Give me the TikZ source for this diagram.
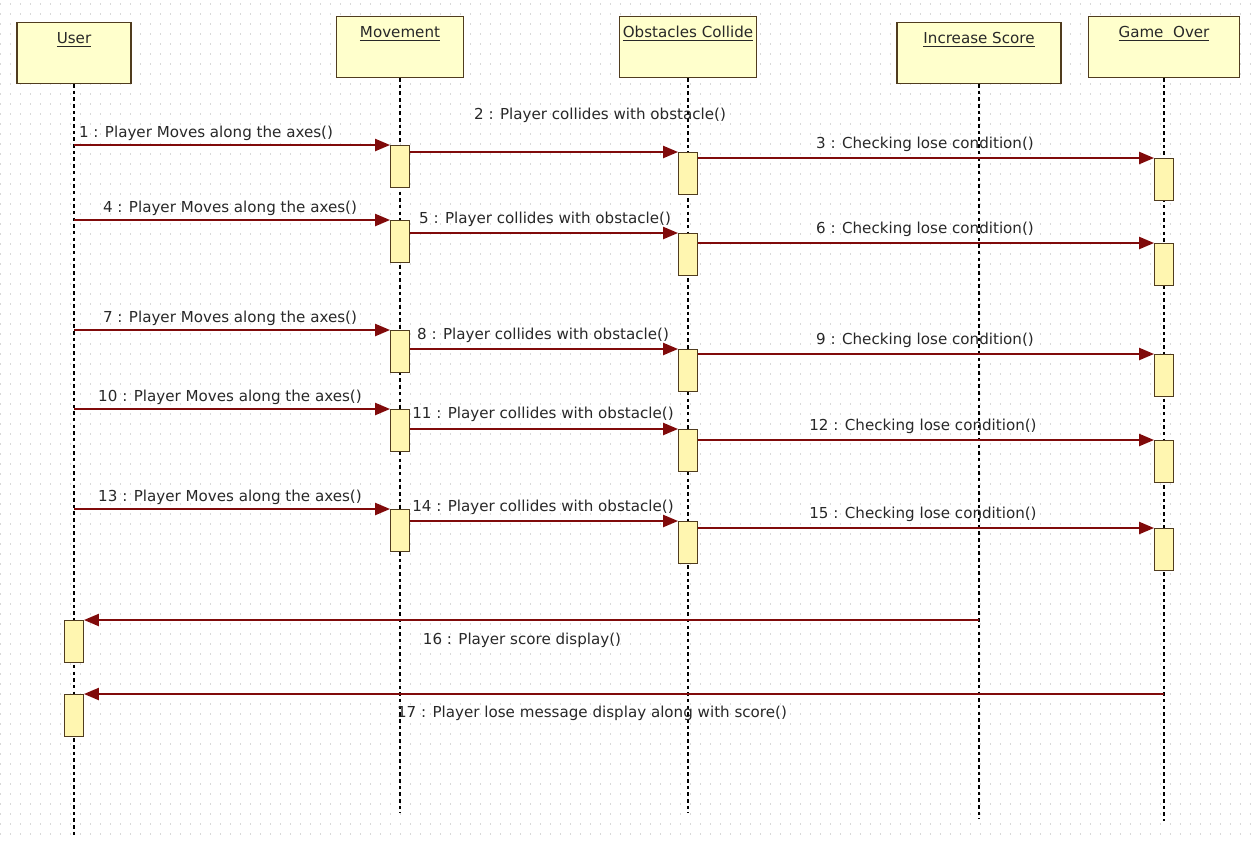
\documentclass[tikz,border=0pt]{standalone}
\usepackage{fontspec}
\setmainfont{DejaVu Sans}
\usetikzlibrary{
  calc, % For coordinate calculations
  arrows.meta, % For arrow tips
  positioning
}

\definecolor{headfill}{RGB}{255,255,204}
\definecolor{actfill}{RGB}{255,246,176}
\definecolor{boxline}{RGB}{80,60,30}
\definecolor{msgline}{RGB}{128,10,10}
\definecolor{txt}{RGB}{40,40,40}

\begin{document}
\begin{tikzpicture}[
    x=0.02cm, y=-0.02cm, % one unit = one pixel of the screenshot
    font=\fontsize{8.6pt}{10pt}\selectfont,
    head/.style={draw=boxline, fill=headfill, line width=0.6pt, minimum height=1.22cm, anchor=north},
    headlbl/.style={anchor=north, yshift=-0.2cm, text=txt, inner sep=0pt},
    act/.style={draw=boxline, fill=actfill, line width=0.6pt, minimum width=0.38cm, minimum height=0.84cm, inner sep=0pt, anchor=north},
    life/.style={black, line width=0.8pt, dash pattern=on 2pt off 1.8pt},
    msg/.style={msgline, line width=0.8pt, -{Triangle[length=8.5pt, width=7pt]}},
    lbl/.style={text=txt, inner sep=0pt},
    griddot/.style={black!15, line width=0.6pt, dash pattern=on 0.57pt off 5.12pt},
  ]

  % Hintergrund
  \fill[white] (0,0) rectangle (1259,843);
  \useasboundingbox (0,0) rectangle (1259,843);
  \foreach \gy in {4,14,...,834}
  \draw[griddot] (0,\gy) -- (1259,\gy);

  % Objekte
  \node[head, minimum width=2.28cm, label={[headlbl, name=usert]north:\underline{User}}] (user) at (74,22) {};
  \node[head, minimum width=2.54cm, label={[headlbl, name=movet]north:\underline{Movement}}] (move) at (400,16) {};
  \node[head, minimum width=2.74cm, label={[headlbl, name=obstt]north:\underline{Obstacles Collide}}] (obst) at (688,16) {};
  \node[head, minimum width=3.28cm, label={[headlbl, name=scoret]north:\underline{Increase Score}}] (score) at (979,22) {};
  \node[head, minimum width=3.02cm, label={[headlbl, name=overt]north:\underline{Game~~Over}}] (over) at (1164,16) {};

  % Lebenslinien
  \foreach \n/\l in {user/752, move/735, obst/735, score/735, over/743}
  \draw[life] (\n.south) -- ++(0,\l) coordinate (\n end);

  % Nachrichten 1 bis 15
  \foreach \r/\ya/\yb/\yc/\xa/\xb/\xc/\yl in {
      1/145/152/158/206/600/925/37,
      2/220/233/243/230/545/925/14,
      3/330/349/354/230/543/925/14,
      4/409/429/440/230/543/923/15,
      5/509/521/528/230/543/923/14}{
    \pgfmathtruncatemacro{\na}{3*\r-2}
    \pgfmathtruncatemacro{\nb}{3*\r-1}
    \pgfmathtruncatemacro{\nc}{3*\r}
    \node[act] (m\r) at (400,\ya) {};
    \node[act] (o\r) at (688,\yb) {};
    \node[act] (g\r) at (1164,\yc) {};
    \draw[msg] (user |- m\r.north) -- (m\r.north west);
    \draw[msg] (m\r.east |- o\r.north) -- (o\r.north west);
    \draw[msg] (o\r.east |- g\r.north) -- (g\r.north west);
    \node[lbl] (l\na) at (\xa,\ya-12) {\na{} : Player Moves along the axes()};
    \node[lbl] (l\nb) at (\xb,\yb-\yl) {\nb{} : Player collides with obstacle()};
    \node[lbl] (l\nc) at (\xc,\yc-14) {\nc{} : Checking lose condition()};
  }

  % Rueckmeldungen an den User
  \node[act] (u1) at (74,620) {};
  \node[act] (u2) at (74,694) {};
  \draw[msg] (score |- u1.north) -- (u1.north east);
  \draw[msg] (over |- u2.north) -- (u2.north east);
  \node[lbl] (l16) at (522,640) {16 : Player score display()};
  \node[lbl] (l17) at (592,713) {17 : Player lose message display along with score()};

\end{tikzpicture}
\end{document}
